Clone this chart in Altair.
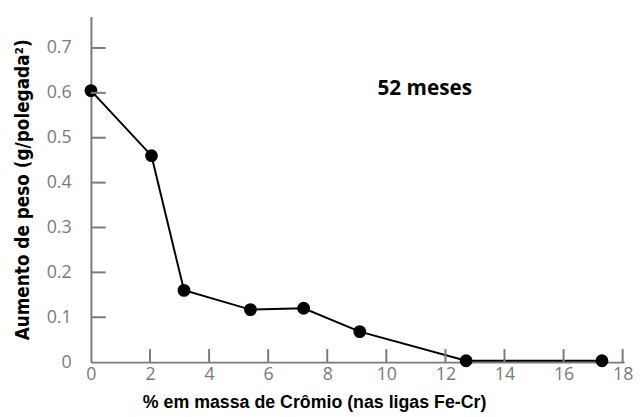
import altair as alt
import pandas as pd

cr_pct = [0.0, 2.05, 3.15, 5.4, 7.2, 9.1, 12.7, 17.3]
ganho = [0.605, 0.46, 0.16, 0.117, 0.12, 0.068, 0.003, 0.003]
x_ticks = [0, 2, 4, 6, 8, 10, 12, 14, 16, 18]
y_ticks = [0.0, 0.1, 0.2, 0.3, 0.4, 0.5, 0.6, 0.7]
anotacao = "52 meses"

df = pd.DataFrame({"x": cr_pct, "y": ganho})
xt = pd.DataFrame({"x": x_ticks})
yt = pd.DataFrame({"y": y_ticks})

GRAY = "#7a7a7a"
xs = alt.Scale(domain=[0, 18.05], nice=False, zero=False)
ys = alt.Scale(domain=[0, 0.77], nice=False, zero=False)

x_axis = alt.Axis(
    values=x_ticks, format="d", ticks=False, grid=False,
    domainColor=GRAY, domainWidth=2,
    labelFont="Open Sans", labelFontSize=18, labelColor=GRAY, labelPadding=4, labelFlush=False,
    title="% em massa de Crômio (nas ligas Fe-Cr)",
    titleFont="Liberation Sans", titleFontSize=18, titleFontWeight="bold", titleColor="black",
    titleX=226, titleY=32, titleBaseline="top", titleAlign="center",
)
y_axis = alt.Axis(
    values=y_ticks, ticks=False, grid=False,
    domainColor=GRAY, domainWidth=2,
    labelFont="Open Sans", labelFontSize=18, labelColor=GRAY, labelPadding=20,
    labelExpr="datum.value == 0 ? '0' : format(datum.value, '.1f')",
    title="Aumento de peso (g/polegada²)",
    titleFont="DejaVu Sans Condensed", titleFontSize=19, titleFontWeight="bold",
    titleColor="black", titlePadding=14,
)

base = alt.Chart(df)

line = base.mark_line(color="black", strokeWidth=2).encode(
    x=alt.X("x:Q", scale=xs, axis=x_axis),
    y=alt.Y("y:Q", scale=ys, axis=y_axis),
)
pts = base.mark_circle(color="black", size=170, opacity=1).encode(
    x=alt.X("x:Q", scale=xs), y=alt.Y("y:Q", scale=ys)
)
xtick = alt.Chart(xt).transform_filter("datum.x > 0").transform_calculate(
    y0="0", y1="0.029"
).mark_rule(color=GRAY, strokeWidth=2).encode(
    x=alt.X("x:Q", scale=xs),
    y=alt.Y("y0:Q", scale=ys), y2="y1:Q",
)
ytick = alt.Chart(yt).transform_filter("datum.y > 0").transform_calculate(
    x0="0", x1="0.5"
).mark_rule(color=GRAY, strokeWidth=2).encode(
    y=alt.Y("y:Q", scale=ys),
    x=alt.X("x0:Q", scale=xs), x2="x1:Q",
)
txt = alt.Chart(pd.DataFrame({"x": [11.3], "y": [0.609], "t": [anotacao]})).mark_text(
    font="Open Sans", fontWeight="bold", fontSize=21, color="black"
).encode(x=alt.X("x:Q", scale=xs), y=alt.Y("y:Q", scale=ys), text="t:N")

chart = alt.layer(line, pts, xtick, ytick, txt).properties(
    width=540, height=350,
    autosize=alt.AutoSizeParams(type="none"),
    padding={"left": 84, "top": 6, "right": 10, "bottom": 60},
).configure_view(stroke=None).configure_axis(labelFontSize=18)

chart.save("out.html", embed_options={"renderer": "svg", "actions": False})
